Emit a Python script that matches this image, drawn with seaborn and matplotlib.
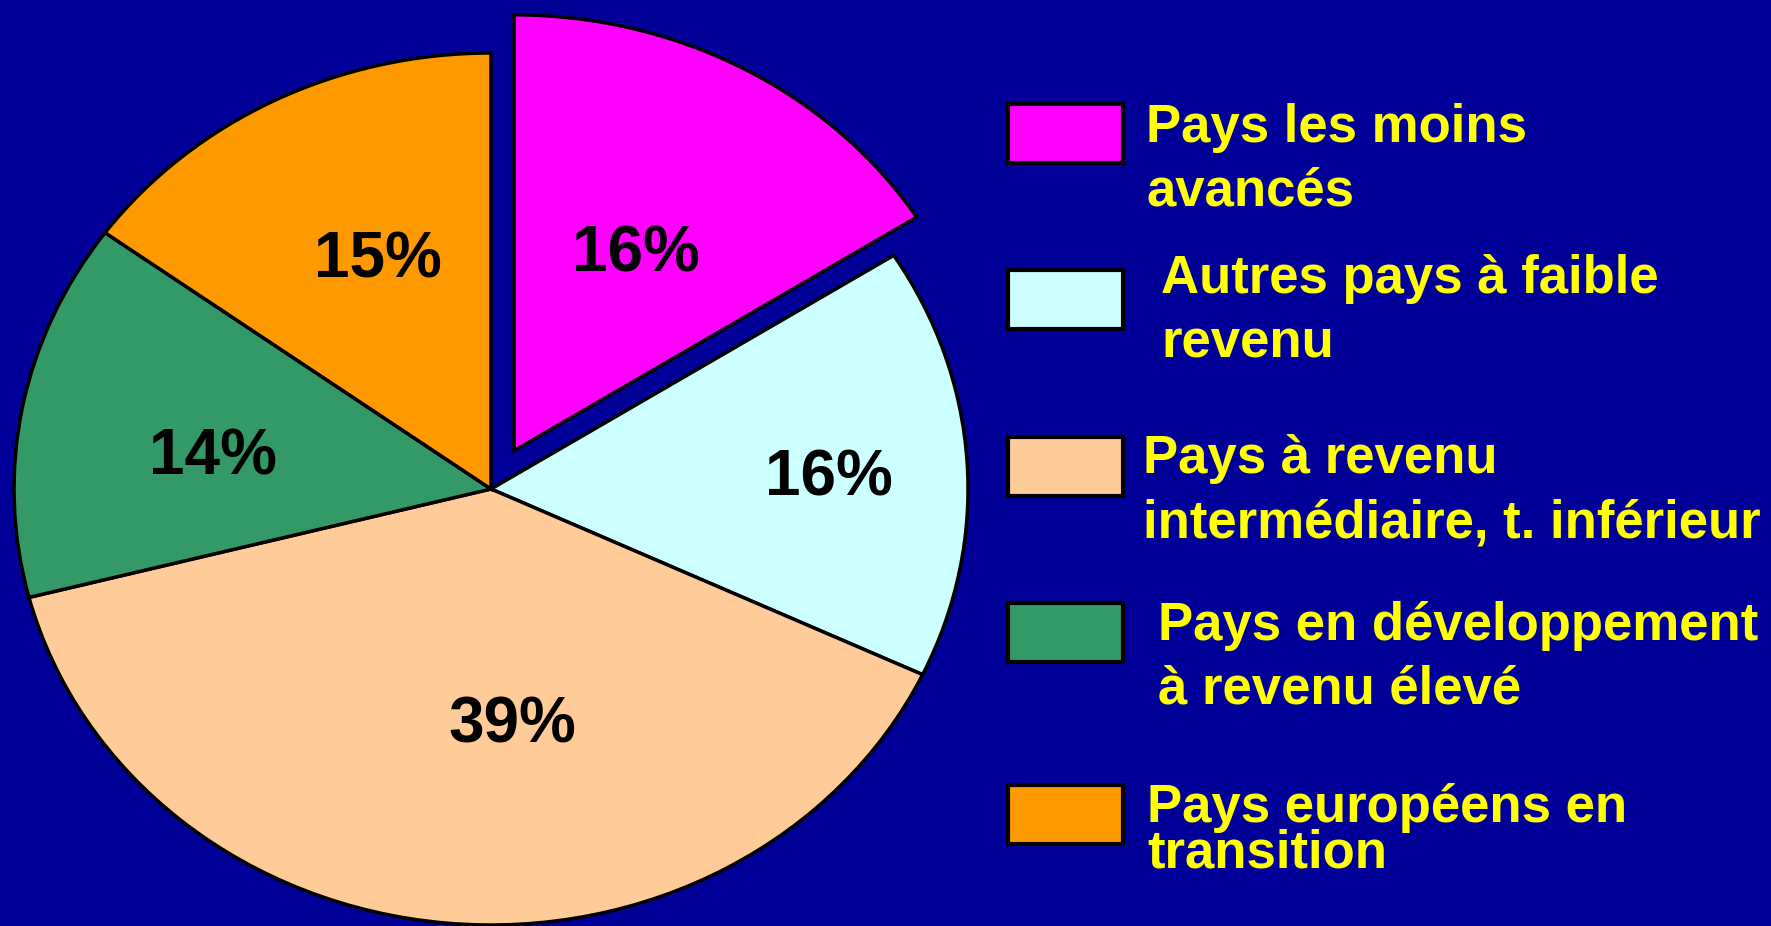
import matplotlib
matplotlib.use("Agg")
import matplotlib.pyplot as plt
from matplotlib.patches import Rectangle
import numpy as np
import seaborn as sns

sns.set_theme(style="white")
plt.rcParams['font.family'] = ['Liberation Sans', 'DejaVu Sans']

# data
categories = [
    "Pays les moins\navancés",
    "Autres pays à faible\nrevenu",
    "Pays à revenu\nintermédiaire, t. inférieur",
    "Pays en développement\nà revenu élevé",
    "Pays européens en\ntransition",
]
shares = [16, 16, 39, 14, 15]
colors = sns.color_palette(["#FF00FF", "#CCFFFF", "#FFCC99", "#339966", "#FF9900"])

BG = "#000099"
W, H = 1771, 926

fig = plt.figure(figsize=(W / 100, H / 100), dpi=100, facecolor=BG)

# pie axes: centre (491, 489) px from top-left, radii 477 x 436 px
cx, cy, rx, ry = 491, 489, 477, 436
lim = 1.15
ax = fig.add_axes([(cx - lim * rx) / W, (H - cy - lim * ry) / H,
                   2 * lim * rx / W, 2 * lim * ry / H])
ax.set_facecolor(BG)

wedges, _, autotexts = ax.pie(
    shares, colors=colors, startangle=90, counterclock=False,
    explode=[0.1, 0, 0, 0, 0], autopct="%1.0f%%", pctdistance=0.6,
    wedgeprops=dict(edgecolor="black", linewidth=2.5),
    textprops=dict(fontsize=46, fontweight="bold", color="black"),
)
ax.set_aspect("auto")
ax.set_xlim(-lim, lim)
ax.set_ylim(-lim, lim)
ax.axis("off")

# percent labels: distance from wedge centre and angular nudge from bisector
label_r = [0.53, 0.71, 0.53, 0.59, 0.59]
label_dtheta = [0.0, -0.4, 10.3, 2.2, -3.2]
half_digit = 23.5 / ry  # place baseline so the digits are centred
for w, t, r, d in zip(wedges, autotexts, label_r, label_dtheta):
    a = np.deg2rad((w.theta1 + w.theta2) / 2 + d)
    x0, y0 = w.center
    t.set_position((x0 + r * np.cos(a), y0 + r * np.sin(a) - half_digit))
    t.set_ha("center")
    t.set_va("baseline")

# legend drawn by hand (boxes + two-line yellow labels)
box_left, box_w, box_h = 1008, 115, 59
box_tops = [104, 270, 437, 603, 785]
text_x = [1146, 1161, 1143, 1158, 1147]
first_base = [142, 293, 473, 640, 822]
line_gap = [63, 64, 64, 63, 45]

for lab, col, bt, tx, fb, gap in zip(categories, colors, box_tops,
                                      text_x, first_base, line_gap):
    fig.patches.append(Rectangle(
        (box_left / W, 1 - (bt + box_h) / H), box_w / W, box_h / H,
        transform=fig.transFigure, facecolor=col, edgecolor="black",
        linewidth=3))
    for i, line in enumerate(lab.split("\n")):
        fig.text(tx / W, 1 - (fb + i * gap) / H, line, color="#FFFF00",
                 fontsize=38, fontweight="bold", ha="left", va="baseline")

fig.savefig("out.png", dpi=100, facecolor=BG)
